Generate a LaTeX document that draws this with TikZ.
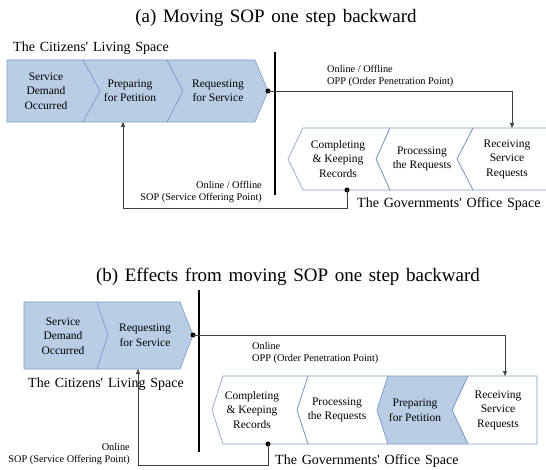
\documentclass[tikz,border=0pt]{standalone}
\usepackage{fontspec}
\setmainfont{Liberation Serif}
\newfontfamily\titlefont[WordSpace=1.6]{Liberation Serif}
\newfontfamily\spacefont[WordSpace=1.4]{Liberation Serif}
\usetikzlibrary{arrows.meta}
\definecolor{chfill}{HTML}{B9CDE5}
\definecolor{chline}{HTML}{7F9CC8}
\definecolor{connc}{HTML}{404040}
\tikzset{
  chev/.style={draw=chline, line width=0.6pt},
  chevfill/.style={chev, fill=chfill},
  chevtext/.style={align=center, font=\fontsize{11.5}{14.5}\selectfont, inner sep=0pt},
  lbl/.style={font=\fontsize{10.3}{12.5}\selectfont, inner sep=0pt},
  spacelbl/.style={font=\spacefont\fontsize{14}{16}\selectfont, inner sep=0pt, anchor=west},
  ttl/.style={font=\titlefont\fontsize{19}{22}\selectfont, inner sep=0pt},
  connector/.style={draw=connc, line width=0.7pt, -{Triangle[length=5pt,width=4pt]}},
  dotnode/.style={circle, fill=black, inner sep=0pt, minimum size=5pt},
  divider/.style={line width=2.2pt}
}
\begin{document}
\begin{tikzpicture}[x=1pt,y=-1pt]
\clip (0,0) rectangle (546,470);
\fill[white] (0,0) rectangle (546,470);

% ---------- (a) ----------
\node[ttl] (ta) at (276,18) {(a) Moving SOP one step backward};
\node[spacelbl] (cita) at (13,48) {The Citizens' Living Space};

\draw[chevfill] (7,60) -- (83,60) -- (100,91) -- (83,122) -- (7,122) -- cycle;
\draw[chevfill] (83,60) -- (167,60) -- (183,91) -- (167,122) -- (83,122) -- (100,91) -- cycle;
\draw[chevfill] (167,60) -- (255,60) -- (268,91) -- (255,122) -- (167,122) -- (183,91) -- cycle;
\node[chevtext] (a1) at (46,91) {Service\\Demand\\Occurred};
\node[chevtext] (a2) at (130,91) {Preparing\\for Petition};
\node[chevtext] (a3) at (218,91) {Requesting\\for Service};

\draw[divider] (275,52) -- (275,195);

\draw[chev] (288,159) -- (303,128) -- (390,128) -- (376,159) -- (390,190) -- (303,190) -- cycle;
\draw[chev] (376,159) -- (390,128) -- (473,128) -- (457,159) -- (473,190) -- (390,190) -- cycle;
\draw[chev] (550,128) -- (473,128) -- (457,159) -- (473,190) -- (550,190);
\node[chevtext] (a4) at (338,159) {Completing\\\& Keeping\\Records};
\node[chevtext] (a5) at (422,159) {Processing\\the Requests};
\node[chevtext] (a6) at (507,159) {Receiving\\Service\\Requests};

\node[dotnode] (da1) at (268,91) {};
\coordinate (oppa) at (512,128);
\draw[connector] (da1.center) -| (oppa);
\node[lbl, anchor=west, align=left] (oppla) at (327,76) {Online / Offline\\OPP (Order Penetration Point)};

\node[dotnode] (da2) at (347,190) {};
\coordinate (sopa) at (123,208);
\coordinate (sopaend) at (123,122);
\draw[connector] (da2.center) |- (sopa) -- (sopaend);
\node[lbl, anchor=east, align=right] (sopla) at (262,192) {Online / Offline\\SOP (Service Offering Point)};

\node[spacelbl] (gova) at (357,204) {The Governments' Office Space};

% ---------- (b) ----------
\node[ttl] (tb) at (288,277) {(b) Effects from moving SOP one step backward};

\draw[chevfill] (24,302) -- (97,302) -- (108,335) -- (97,369) -- (24,369) -- cycle;
\draw[chevfill] (97,302) -- (180,302) -- (193,335) -- (180,369) -- (97,369) -- (108,335) -- cycle;
\node[chevtext] (b1) at (63,336) {Service\\Demand\\Occurred};
\node[chevtext] (b2) at (145,335) {Requesting\\for Service};

\node[spacelbl] (citb) at (28,384) {The Citizens' Living Space};

\draw[divider] (199,290) -- (199,452);

\draw[chev] (212,410) -- (223,376) -- (308,376) -- (297,410) -- (308,444) -- (223,444) -- cycle;
\draw[chev] (297,410) -- (308,376) -- (388,376) -- (377,410) -- (388,444) -- (308,444) -- cycle;
\draw[chevfill] (377,410) -- (388,376) -- (468,376) -- (452,410) -- (468,444) -- (388,444) -- cycle;
\draw[chev] (452,410) -- (468,376) -- (537,376) -- (537,444) -- (468,444) -- cycle;
\node[chevtext] (b3) at (252,410) {Completing\\\& Keeping\\Records};
\node[chevtext] (b4) at (337,410) {Processing\\the Requests};
\node[chevtext] (b5) at (415,410) {Preparing\\for Petition};
\node[chevtext] (b6) at (498,410) {Receiving\\Service\\Requests};

\node[dotnode] (db1) at (193,335) {};
\coordinate (oppb) at (505,376);
\draw[connector] (db1.center) -| (oppb);
\node[lbl, anchor=west, align=left] (opplb) at (252,353) {Online\\OPP (Order Penetration Point)};

\node[dotnode] (db2) at (268,444) {};
\coordinate (sopb) at (138,465);
\coordinate (sopbend) at (138,369);
\draw[connector] (db2.center) |- (sopb) -- (sopbend);
\node[lbl, anchor=east, align=right] (soplb) at (130,454) {Online\\SOP (Service Offering Point)};

\node[spacelbl] (govb) at (275,461) {The Governments' Office Space};
\end{tikzpicture}
\end{document}
